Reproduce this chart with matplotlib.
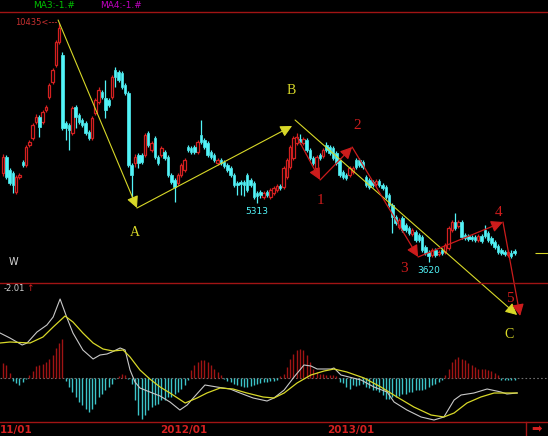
import matplotlib
matplotlib.use('Agg')
import matplotlib.pyplot as plt
from matplotlib.lines import Line2D
import matplotlib.transforms as mtrans
import numpy as np

# ---------------- data ----------------
opens = [6160, 6615, 6245, 6160, 5620, 6045, 6470, 6390, 6960, 7160,
         7610, 7755, 7610, 7955, 8325, 8750, 9240, 9890, 9520, 7585,
         7530, 7300, 8040, 7810, 7670, 7585, 7330, 7160, 7870, 8180,
         8470, 8300, 8240, 8325, 9095, 9040, 9010, 8670, 8440, 6390,
         6445, 6670, 6670, 6670, 7300, 6815, 7160, 6615, 6670, 6760,
         6615, 6100, 5960, 5875, 6100, 6245, 6900, 6870, 6900, 6760,
         7240, 7100, 7015, 6760, 6670, 6445, 6530, 6470, 6390, 6300,
         6100, 5875, 5900, 5900, 6100, 5960, 5875, 5590, 5620, 5475,
         5620, 5475, 5590, 5675, 5790, 5760, 6045, 6330, 6590, 7015,
         7130, 7015, 7100, 6815, 6590, 6300, 6670, 6640, 6960, 6900,
         6870, 6730, 6530, 6190, 6100, 6100, 6190, 6530, 6530, 6470,
         6045, 5960, 5900, 5850, 5930, 5820, 5760, 5530, 5250, 4905,
         4620, 4880, 4680, 4590, 4420, 4480, 4390, 4335, 4050, 3910,
         3820, 3965, 3850, 3965, 3910, 4020, 4535, 4760, 4650, 4760,
         4390, 4360, 4335, 4335, 4250, 4360, 4535, 4450, 4310, 4190,
         4080, 3965, 3910, 3820, 3880, 3935]
highs = [6700, 6680, 6300, 6220, 6100, 6160, 6530, 6960, 7100, 7590,
         7840, 7820, 7960, 8100, 8730, 9150, 9950, 10435, 9610, 7640,
         7590, 8070, 8100, 7870, 7730, 7640, 7390, 7790, 8300, 8610,
         8530, 8810, 8300, 8960, 9180, 9100, 9070, 8730, 8500, 6450,
         6700, 6730, 6730, 7300, 7360, 7070, 7220, 6670, 6930, 6810,
         6670, 6160, 6020, 6160, 6450, 6590, 6960, 6930, 6960, 7100,
         7670, 7160, 7070, 6810, 6730, 6590, 6590, 6530, 6450, 6360,
         6160, 5930, 5960, 5960, 6160, 6020, 5930, 5650, 5680, 5650,
         5680, 5730, 5790, 5850, 5850, 6360, 6590, 6960, 7220, 7300,
         7270, 7190, 7160, 6870, 6640, 6670, 6730, 6870, 7045, 6960,
         6930, 6790, 6590, 6245, 6160, 6360, 6360, 6590, 6590, 6530,
         6100, 6020, 5960, 5990, 5990, 5875, 5820, 5590, 5300, 4960,
         4880, 4930, 4735, 4650, 4590, 4535, 4450, 4390, 4110, 3965,
         4020, 4020, 3965, 4020, 4165, 4650, 4820, 5020, 4820, 4820,
         4450, 4420, 4390, 4390, 4420, 4420, 4680, 4510, 4360, 4250,
         4140, 4020, 3965, 3965, 3965, 3990]
lows = [6075, 5990, 5820, 5590, 5560, 5990, 6330, 6330, 6900, 7100,
        7560, 7185, 7550, 7900, 8270, 8700, 9180, 9830, 7380, 7100,
        6815, 7240, 7440, 7550, 7470, 7240, 7100, 7100, 7810, 8130,
        8270, 7730, 8040, 8270, 8610, 8750, 8550, 8380, 6330, 5390,
        6330, 6300, 6420, 6620, 6900, 6760, 6560, 6390, 6620, 6530,
        6045, 5850, 5330, 5820, 6045, 6190, 6760, 6700, 6700, 6700,
        6990, 6840, 6620, 6560, 6470, 6390, 6390, 6300, 6190, 6045,
        5760, 5530, 5530, 5500, 5620, 5760, 5420, 5313, 5450, 5420,
        5470, 5420, 5530, 5620, 5680, 5700, 5990, 6270, 6530, 6960,
        6990, 6960, 6760, 6530, 6390, 6240, 6530, 6590, 6760, 6670,
        6530, 6390, 6045, 5990, 5960, 6045, 6130, 6270, 6330, 6270,
        5760, 5700, 5760, 5790, 5760, 5675, 5420, 5190, 4450, 4680,
        4560, 4480, 4480, 4390, 4360, 4190, 4190, 3910, 3820, 3620,
        3760, 3760, 3790, 3820, 3850, 3965, 4480, 4535, 4590, 4280,
        4250, 4220, 4220, 4190, 4190, 4165, 4310, 4190, 4110, 3990,
        3850, 3820, 3790, 3760, 3730, 3820]
closes = [6615, 6045, 5875, 5820, 6045, 6100, 6390, 6900, 7045, 7530,
          7755, 7470, 7900, 8040, 8670, 9095, 9890, 10290, 7440, 7440,
          7385, 8010, 7755, 7610, 7530, 7300, 7160, 7730, 8240, 8525,
          8325, 7955, 8100, 8895, 8895, 8810, 8610, 8440, 6390, 6100,
          6615, 6445, 6470, 7240, 6960, 7015, 6615, 6445, 6870, 6590,
          6100, 5900, 5760, 6100, 6390, 6530, 6815, 6760, 6760, 7045,
          7045, 6900, 6670, 6615, 6530, 6530, 6445, 6360, 6245, 6100,
          5820, 5820, 5850, 5820, 5675, 5820, 5475, 5505, 5530, 5590,
          5530, 5675, 5730, 5790, 5730, 6300, 6530, 6900, 7160, 7185,
          7045, 7130, 6815, 6590, 6445, 6615, 6590, 6815, 6815, 6730,
          6590, 6445, 6100, 6045, 6020, 6300, 6300, 6330, 6390, 6330,
          5820, 5760, 5820, 5930, 5820, 5730, 5475, 5250, 4905, 4735,
          4820, 4535, 4535, 4450, 4535, 4250, 4250, 3965, 3880, 3790,
          3965, 3820, 3910, 3880, 4110, 4590, 4760, 4590, 4760, 4335,
          4310, 4280, 4280, 4250, 4360, 4220, 4360, 4250, 4165, 4050,
          3910, 3880, 3850, 3910, 3790, 3880]

macd_hist = [15, 13, 5, -3, -5, -7, -4, -1, 3, 7,
             12, 13, 14, 16, 19, 23, 30, 35, 39, -3,
             -9, -14, -19, -24, -27, -31, -34, -31, -26, -19,
             -16, -12, -9, -6, -1, 2, 4, 3, -1, -6,
             -22, -37, -41, -37, -32, -29, -27, -26, -22, -22,
             -19, -19, -16, -14, -11, -7, -2, 8, 13, 16,
             18, 18, 16, 13, 9, 6, 3, -1, -3, -4,
             -6, -7, -8, -9, -9, -8, -7, -6, -5, -4,
             -4, -3, -3, -2, 2, 4, 11, 19, 24, 28,
             29, 28, 23, 16, 9, 6, 4, 4, 3, 3,
             3, 2, -4, -5, -9, -11, -7, -8, -7, -6,
             -9, -10, -12, -12, -14, -17, -21, -21, -19, -19,
             -18, -16, -16, -14, -14, -12, -12, -12, -11, -9,
             -7, -6, -4, -2, 3, 9, 16, 19, 21, 19,
             18, 15, 13, 11, 9, 9, 9, 8, 7, 5,
             3, -2, -2, -2, -2, -2]

dif_idx = [-0.9, 2.1, 5.8, 7.3, 10.3, 13.3, 15.2, 17.3, 19.4, 21.2,
           24.2, 27.3, 29.4, 31.5, 33.0, 35.5, 37.0, 38.5, 40.0, 41.5,
           44.5, 47.6, 50.6, 53.6, 55.8, 58.2, 61.2, 64.8, 68.8, 71.8,
           75.8, 80.0, 82.1, 85.2, 88.2, 91.2, 93.3, 95.2, 99.4, 100.3,
           102.4, 108.5, 112.4, 116.4, 118.5, 122.4, 126.7, 130.6, 133.6, 136.7,
           138.8, 142.7, 146.7, 150.9, 152.7, 155.8]
dif_val = [45, 40, 33, 35, 46, 53, 61, 79, 60, 45,
           28, 19, 23, 24, 26, 30, 28, 8, -4, -10,
           -14, -18, -24, -32, -27, -18, -7, -9, -11, -15,
           -20, -23, -20, -12, 1, 13, 12, 9, 9, 10,
           3, -2, -9, -14, -24, -32, -39, -42, -39, -22,
           -17, -15, -11, -14, -16, -15]
dea_idx = [-0.9, 2.1, 8.2, 12.1, 15.2, 18.8, 21.2, 24.2, 27.3, 30.3,
           33.3, 36.4, 38.5, 41.5, 44.5, 47.6, 50.6, 55.2, 58.8, 61.8,
           65.8, 69.7, 73.9, 78.8, 82.1, 85.2, 89.1, 93.3, 97.3, 100.3,
           104.2, 109.4, 114.5, 119.4, 124.5, 129.7, 133.6, 136.7, 140.6, 144.8,
           148.8, 152.7, 155.8]
dea_val = [35, 36, 35, 41, 51, 62, 56, 45, 35, 29,
           27, 28, 21, 8, -1, -9, -15, -25, -20, -15,
           -10, -11, -15, -19, -20, -15, -5, 3, 7, 9,
           6, 0, -9, -19, -29, -37, -39, -35, -25, -19,
           -15, -15, -15]

date_labels = ["11/01", "2012/01", "2013/01"]
date_idx = [-0.9, 47.6, 98.2]

# wave annotation pivots (candle index, price)
abc_idx = [16.7, 40.6, 87.6]
abc_price = [10520, 5162, 7500]
c_leg_idx = [88.5, 155.8]
c_leg_price = [7670, 2112]
wave_idx = [89.1, 96.1, 105.8, 125.8, 151.5, 156.7]
wave_price = [7185, 5960, 6900, 3766, 4763, 2084]
abc_labels = ["A", "B", "C"]
abc_label_idx = [40.0, 87.3, 153.3]
abc_label_price = [4450, 8497, 1571]
wave_labels = ["1", "2", "3", "4", "5"]
wave_label_idx = [96.1, 107.3, 121.5, 150.3, 153.6]
wave_label_price = [5390, 7500, 3424, 5048, 2597]

# ---------------- style ----------------
RED = '#d42020'
WAVE_RED = '#cc1c1c'
DARKRED = '#a01414'
CYAN = '#52f4f8'
HCYAN = '#3cc4c8'
YEL = '#d8d828'
W, H = 548, 436

fig = plt.figure(figsize=(W / 100, H / 100), dpi=100, facecolor='black')
ax = fig.add_axes([0, 1 - 283 / H, 1, (283 - 13) / H])
ax2 = fig.add_axes([0, 1 - 422 / H, 1, (422 - 283) / H])
for a in (ax, ax2):
    a.set_facecolor('none')
    a.set_axis_off()

o = np.array(opens, float); h = np.array(highs, float)
l = np.array(lows, float); c = np.array(closes, float)
x = np.arange(len(c))
up = c >= o
btop = np.maximum(o, c); bbot = np.minimum(o, c)
cols = np.where(up, RED, CYAN)

ax.vlines(x, btop, h, colors=cols, lw=0.9, zorder=2)
ax.vlines(x, l, bbot, colors=cols, lw=0.9, zorder=2)
bw = 0.75
ax.bar(x[up], np.maximum(btop[up] - bbot[up], 8), bottom=bbot[up], width=bw,
       facecolor='black', edgecolor=RED, linewidth=0.9, zorder=3)
ax.bar(x[~up], np.maximum(btop[~up] - bbot[~up], 8), bottom=bbot[~up], width=bw,
       facecolor=CYAN, edgecolor=CYAN, linewidth=0.5, zorder=3)

ax.set_xlim(-0.909, 165.15)
ax.set_ylim(3024.5, 10719.5)

# wave arrows
ap_y = dict(arrowstyle='-|>,head_length=0.7,head_width=0.35', color=YEL, lw=0.8,
            shrinkA=0, shrinkB=0)
ap_r = dict(arrowstyle='-|>,head_length=0.7,head_width=0.35', color=WAVE_RED, lw=0.9,
            shrinkA=0, shrinkB=0)
for k in range(len(abc_idx) - 1):
    ax.annotate('', xy=(abc_idx[k + 1], abc_price[k + 1]), xytext=(abc_idx[k], abc_price[k]),
                arrowprops=ap_y, annotation_clip=False, zorder=5)
ax.annotate('', xy=(c_leg_idx[1], c_leg_price[1]), xytext=(c_leg_idx[0], c_leg_price[0]),
            arrowprops=ap_y, annotation_clip=False, zorder=5)
for k in range(len(wave_idx) - 1):
    ax.annotate('', xy=(wave_idx[k + 1], wave_price[k + 1]), xytext=(wave_idx[k], wave_price[k]),
                arrowprops=ap_r, annotation_clip=False, zorder=6)

for t, xi, yi in zip(abc_labels, abc_label_idx, abc_label_price):
    ax.text(xi, yi, t, color=YEL, fontsize=10, family='Liberation Serif',
            ha='center', va='center', clip_on=False)
for t, xi, yi in zip(wave_labels, wave_label_idx, wave_label_price):
    ax.text(xi, yi, t, color=WAVE_RED, fontsize=11, family='Liberation Serif',
            ha='center', va='center', clip_on=False)

# price labels
imax = int(np.argmax(h))
ax.annotate(f'{int(h[imax])}<---', xy=(imax, h[imax]), xytext=(-1, 0),
            textcoords='offset points', ha='right', va='center',
            color='#c83030', fontsize=6)
for lo_i in (77, 129):
    ax.annotate(f'{int(l[lo_i])}', xy=(lo_i, l[lo_i]), xytext=(0, -3),
                textcoords='offset points', ha='center', va='top',
                color=CYAN, fontsize=6.5)
ax.text(9 / W, (283 - 262) / 270, 'W', transform=ax.transAxes, color='#d8d8d8',
        fontsize=7, ha='left', va='center')
ax.hlines(c[-1], 161.2, 165.15, color=YEL, lw=0.8)

# MACD
hcols = [DARKRED if v > 0 else HCYAN for v in macd_hist]
ax2.axhline(0, color='#707070', lw=0.8, ls=(0, (1.5, 2.0)), zorder=1)
ax2.vlines(x, 0, macd_hist, colors=hcols, lw=1.0, zorder=2)
ax2.plot(dif_idx, dif_val, color='#c8c8c8', lw=0.8, zorder=3)
ax2.plot(dea_idx, dea_val, color=YEL, lw=0.9, zorder=4)
ax2.set_xlim(-0.909, 165.15)
ax2.set_ylim(-44, 95)

# frame lines
for yy in (12, 283, 422):
    fig.add_artist(Line2D([0, 1], [1 - yy / H] * 2, color=DARKRED, lw=1.0,
                          transform=fig.transFigure))
fig.add_artist(Line2D([526 / W] * 2, [1 - 422 / H, 0], color=DARKRED, lw=1.0,
                      transform=fig.transFigure))

# texts
fig.text(33 / W, 1 - 6 / H, 'MA3:-1.#', color='#00c000', fontsize=6.5, va='center')
fig.text(100 / W, 1 - 6 / H, 'MA4:-1.#', color='#c000c0', fontsize=6.5, va='center')
fig.text(4 / W, 1 - 288 / H, '-2.01', color='#d0d0d0', fontsize=6, va='center')
fig.text(26 / W, 1 - 288 / H, '↑', color=RED, fontsize=6.5, va='center')

tr = mtrans.blended_transform_factory(ax2.transData, fig.transFigure)
for t, xi in zip(date_labels, date_idx):
    ax2.text(xi, 1 - 430 / H, t, transform=tr, color=RED, fontsize=7.5,
             fontweight='bold', ha='left', va='center', clip_on=False)
fig.text(537 / W, 1 - 430 / H, '➡', color=RED, fontsize=9, ha='center', va='center')

fig.savefig('out.png', dpi=100, facecolor='black')
